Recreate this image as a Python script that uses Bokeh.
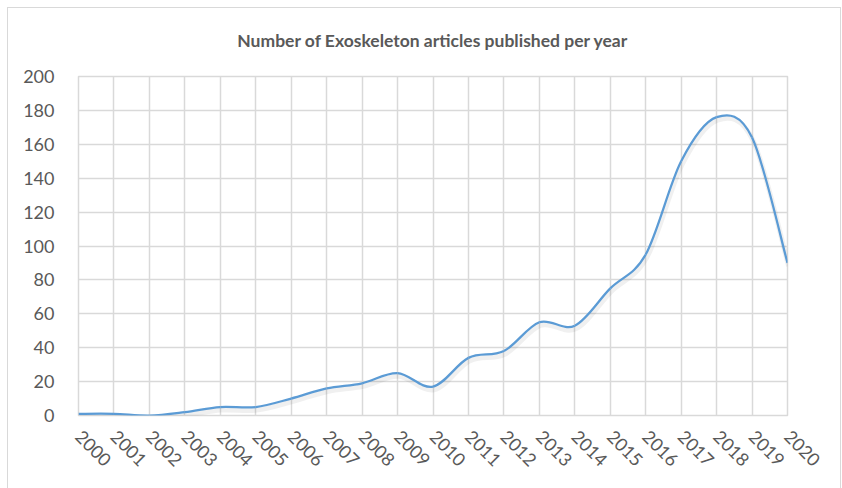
import numpy as np
from bokeh.plotting import figure
from bokeh.models import FixedTicker, Range1d, ColumnDataSource
from bokeh.embed import file_html
from bokeh.resources import INLINE

# ---- data ----
years = list(range(2000, 2021))
articles = [1, 1, 0, 2, 5, 5, 10, 16, 19, 25, 17, 34, 38, 55, 53, 75, 95, 150, 176, 164, 90]
y_ticks = list(range(0, 201, 20))
title_text = "Number of Exoskeleton articles published per year"

FONT = "Lato"
TXT = "#595959"
GRID = "#D9D9D9"
BLUE = "#5B9BD5"

p = figure(width=842, height=488, output_backend="svg", toolbar_location=None,
           x_range=Range1d(2000, 2020), y_range=Range1d(0, 200),
           min_border_left=78, min_border_right=55, min_border_top=76, min_border_bottom=73,
           background_fill_color="white", border_fill_color="white")

# outer chart border (CSS, drawn over the canvas edges)
p.stylesheets = [":host::after { content: ''; position: absolute; left: 7px; top: 7px; "
                 "right: 1px; bottom: 0px; border: 1px solid #D9D9D9; border-bottom: none; "
                 "pointer-events: none; z-index: 10; }"]

# title
p.title.text = title_text
p.title.align = "center"
p.title.text_font = FONT
p.title.text_font_style = "bold"
p.title.text_font_size = "17.5px"
p.title.text_color = TXT
p.title.standoff = 52

# smooth curve (Excel-like Catmull-Rom bezier segments)
xs = np.array(years, dtype=float)
ys = np.array(articles, dtype=float)
n = len(xs)
x0, y0, x1, y1, cx0, cy0, cx1, cy1 = [], [], [], [], [], [], [], []
for i in range(n - 1):
    pm = i - 1 if i > 0 else i
    pp = i + 2 if i + 2 < n else i + 1
    x0.append(xs[i]); y0.append(ys[i]); x1.append(xs[i + 1]); y1.append(ys[i + 1])
    cx0.append(xs[i] + (xs[i + 1] - xs[pm]) / 6.0)
    cy0.append(ys[i] + (ys[i + 1] - ys[pm]) / 6.0)
    cx1.append(xs[i + 1] - (xs[pp] - xs[i]) / 6.0)
    cy1.append(ys[i + 1] - (ys[pp] - ys[i]) / 6.0)

src = ColumnDataSource(dict(x0=x0, y0=y0, x1=x1, y1=y1, cx0=cx0, cy0=cy0, cx1=cx1, cy1=cy1))
sh = lambda a, d: [v + d for v in a]
shadow = ColumnDataSource(dict(x0=sh(x0, 0.03), y0=sh(y0, -1.8), x1=sh(x1, 0.03), y1=sh(y1, -1.8),
                               cx0=sh(cx0, 0.03), cy0=sh(cy0, -1.8), cx1=sh(cx1, 0.03), cy1=sh(cy1, -1.8)))
p.bezier(x0="x0", y0="y0", x1="x1", y1="y1", cx0="cx0", cy0="cy0", cx1="cx1", cy1="cy1",
         source=shadow, line_color="#000000", line_alpha=0.06, line_width=5)
p.bezier(x0="x0", y0="y0", x1="x1", y1="y1", cx0="cx0", cy0="cy0", cx1="cx1", cy1="cy1",
         source=src, line_color=BLUE, line_width=2.25)

# axes
p.xaxis.ticker = FixedTicker(ticks=years)
p.yaxis.ticker = FixedTicker(ticks=y_ticks)
for ax in (p.xaxis[0], p.yaxis[0]):
    ax.axis_line_color = None
    ax.major_tick_line_color = None
    ax.minor_tick_line_color = None
    ax.major_label_text_font = FONT
    ax.major_label_text_font_size = "18px"
    ax.major_label_text_color = TXT
p.yaxis.major_label_standoff = 18
p.xaxis.major_label_standoff = 12
p.xaxis.major_label_orientation = -np.pi / 4

# grid
p.xgrid.grid_line_color = GRID
p.ygrid.grid_line_color = GRID
p.xgrid.grid_line_width = 1.5
p.ygrid.grid_line_width = 1.5
p.outline_line_color = GRID
p.outline_line_width = 1.5

open("out.html", "w").write(file_html(p, INLINE))
